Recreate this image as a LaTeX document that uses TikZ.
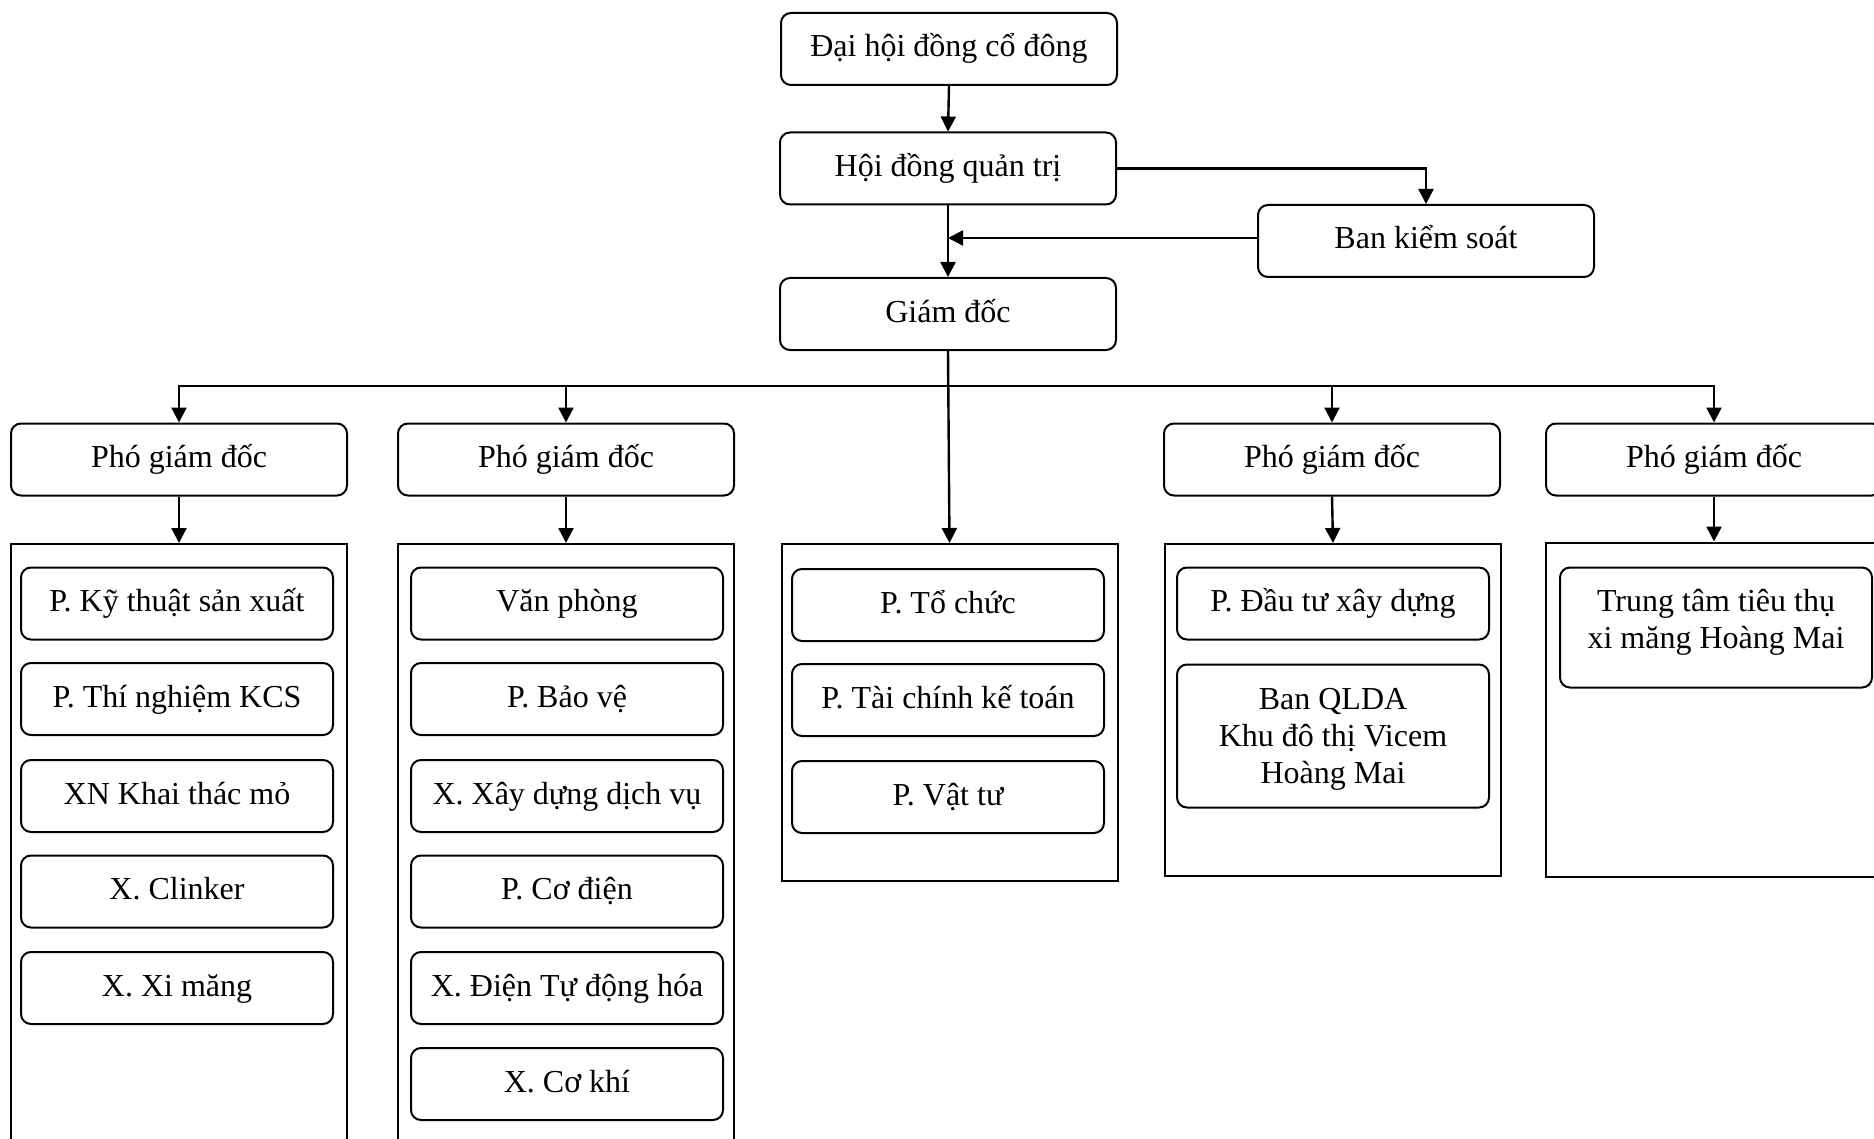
\documentclass[tikz,border=0pt]{standalone}
\usepackage{fontspec}
\setmainfont{Liberation Serif}
\usetikzlibrary{positioning,arrows.meta}

\begin{document}
\begin{tikzpicture}[
  x=0.5pt, y=-0.5pt,
  font=\fontsize{16}{18.5}\selectfont,
  frame/.style={draw, line width=1pt, rounded corners=5pt, minimum height=36pt, align=center},
  topbox/.style={frame, minimum width=168pt, text height=12pt, text depth=4pt},
  subbox/.style={frame, minimum width=156pt, text height=12pt, text depth=4pt},
  multibox/.style={frame, minimum width=156pt},
  groupbox/.style={draw, line width=1pt, minimum width=168pt},
  link/.style={line width=1.2pt, -{Triangle[length=7.5pt,width=7.5pt]}}
]
  \useasboundingbox (0,0) rectangle (1874,1139);
  \clip (0,0) rectangle (1874,1139);

  % Top levels
  \node[topbox] (dhcd) at (949,49) {Đại hội đồng cổ đông};
  \node[topbox] (hdqt) at (948,168.5) {Hội đồng quản trị};
  \node[topbox] (bks) at (1426,241) {Ban kiểm soát};
  \node[topbox] (gd) at (948,314) {Giám đốc};

  \draw[link] (dhcd.south) -- (hdqt.north);
  \draw[link] (hdqt.south) -- (gd.north);
  \draw[link] (hdqt.east) -| (bks.north);
  \draw[link] ([yshift=1.5pt]bks.west) -- ([yshift=1.5pt]bks.west -| hdqt.south);

  % Deputy directors
  \node[topbox] (pgd1) at (179,459.5) {Phó giám đốc};
  \node[topbox] (pgd2) at (566,459.5) {Phó giám đốc};
  \node[topbox] (pgd4) at (1332,459.5) {Phó giám đốc};
  \node[topbox] (pgd5) at (1714,459.5) {Phó giám đốc};

  % Groups of departments
  \node[groupbox, minimum height=323pt] (grp1) at (179,867) {};
  \node[groupbox, minimum height=323pt] (grp2) at (566,867) {};
  \node[groupbox, minimum height=168.5pt] (grp3) at (949.5,712.5) {};
  \node[groupbox, minimum height=166pt] (grp4) at (1333,710) {};
  \node[groupbox, minimum height=167pt] (grp5) at (1714,709.5) {};

  % Bus from the director
  \coordinate (bus) at (948,386);
  \draw[link] (gd.south) -- (grp3.north);
  \draw[link] (bus) -| (pgd1.north);
  \draw[link] (bus) -| (pgd2.north);
  \draw[link] (bus) -| (pgd4.north);
  \draw[link] (bus) -| (pgd5.north);

  \draw[link] (pgd1.south) -- (grp1.north);
  \draw[link] (pgd2.south) -- (grp2.north);
  \draw[link] (pgd4.south) -- (grp4.north);
  \draw[link] (pgd5.south) -- (grp5.north);

  % First column
  \node[subbox] (kt) at (177,603.5) {P. Kỹ thuật sản xuất};
  \node[subbox] (tn) at (177,699) {P. Thí nghiệm KCS};
  \node[subbox] (xn) at (177,796) {XN Khai thác mỏ};
  \node[subbox] (ck) at (177,891.5) {X. Clinker};
  \node[subbox] (xm) at (177,988) {X. Xi măng};

  % Second column
  \node[subbox] (vp) at (567,603.5) {Văn phòng};
  \node[subbox] (bv) at (567,699) {P. Bảo vệ};
  \node[subbox] (xd) at (567,796) {X. Xây dựng dịch vụ};
  \node[subbox] (cd) at (567,891.5) {P. Cơ điện};
  \node[subbox] (dt) at (567,988) {X. Điện Tự động hóa};
  \node[subbox] (ckh) at (567,1084) {X. Cơ khí};

  % Third column
  \node[subbox] (tc) at (948,605) {P. Tổ chức};
  \node[subbox] (tckt) at (948,700) {P. Tài chính kế toán};
  \node[subbox] (vt) at (948,797) {P. Vật tư};

  % Fourth column
  \node[subbox] (dtxd) at (1333,603.5) {P. Đầu tư xây dựng};
  \node[multibox, minimum height=71.5pt, text depth=0pt] (qlda) at (1333,736)
    {Ban QLDA\\Khu đô thị Vicem\\Hoàng Mai};

  % Fifth column
  \node[multibox, minimum height=60pt, text depth=8.5pt] (tttt) at (1716,627.5)
    {Trung tâm tiêu thụ\\xi măng Hoàng Mai};
\end{tikzpicture}
\end{document}
